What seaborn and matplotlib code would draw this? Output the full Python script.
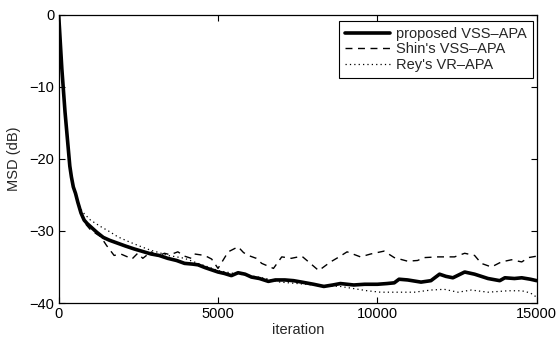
import seaborn as sns
import matplotlib.pyplot as plt
import pandas as pd

# iteration / MSD (dB) values
prop_iter = [0, 30, 60, 100, 150, 200, 250, 300, 350, 400, 460, 530, 600,
             700, 800, 900, 1000, 1200, 1400, 1600, 1850, 2100, 2370, 2600,
             2900, 3150, 3420, 3700, 3950, 4200, 4370, 4600, 5000, 5200,
             5420, 5630, 5850, 6050, 6300, 6580, 6800, 7100, 7370, 7630,
             8000, 8320, 8600, 8840, 9260, 9600, 10000, 10300, 10530, 10680,
             10950, 11370, 11680, 11950, 12150, 12370, 12740, 13050, 13470,
             13840, 14000, 14300, 14530, 14800, 15000]
prop_msd = [0, -2.2, -4.5, -7.5, -10.5, -13.5, -16.0, -18.5, -21.0, -22.5,
            -23.9, -24.8, -26.0, -27.5, -28.5, -29.0, -29.4, -30.2, -30.9,
            -31.3, -31.7, -32.1, -32.5, -32.8, -33.2, -33.4, -33.8, -34.1,
            -34.5, -34.6, -34.7, -35.1, -35.7, -35.9, -36.2, -35.8, -36.0,
            -36.4, -36.6, -37.0, -36.8, -36.8, -36.9, -37.1, -37.4, -37.7,
            -37.5, -37.3, -37.5, -37.4, -37.4, -37.3, -37.2, -36.7, -36.8,
            -37.1, -36.9, -36.0, -36.3, -36.5, -35.7, -36.0, -36.6, -36.9,
            -36.5, -36.6, -36.5, -36.7, -36.9]

shin_iter = [0, 30, 60, 100, 150, 200, 250, 300, 350, 400, 460, 530, 600,
             700, 800, 1010, 1320, 1500, 1740, 1950, 2160, 2300, 2480, 2640,
             2900, 3100, 3320, 3500, 3740, 3950, 4160, 4265, 4580, 4800,
             5000, 5320, 5630, 5800, 5950, 6200, 6370, 6740, 7000, 7300,
             7630, 7790, 8160, 8530, 8800, 9050, 9470, 9790, 10210, 10530,
             10950, 11260, 11470, 11900, 12420, 12740, 13050, 13260, 13580,
             13890, 14210, 14530, 14740, 15000]
shin_msd = [0, -2.2, -4.5, -7.5, -10.5, -13.5, -16.0, -18.5, -21.0, -22.5,
            -23.9, -24.8, -26.0, -27.5, -28.8, -29.9, -30.8, -32.0, -33.4,
            -33.2, -33.6, -33.9, -33.1, -33.8, -32.9, -33.5, -33.1, -33.3,
            -32.9, -33.5, -33.8, -33.2, -33.4, -33.9, -35.2, -32.9, -32.2,
            -33.0, -33.4, -33.8, -34.5, -35.2, -33.6, -33.8, -33.5, -34.1,
            -35.5, -34.3, -33.6, -32.9, -33.6, -33.2, -32.8, -33.7, -34.2,
            -34.1, -33.7, -33.6, -33.6, -33.1, -33.4, -34.5, -35.0, -34.3,
            -34.0, -34.3, -33.7, -33.5]

rey_iter = [0, 30, 60, 100, 150, 200, 250, 300, 350, 400, 460, 530, 600,
            700, 800, 1000, 1320, 1600, 1850, 2100, 2370, 2600, 2900, 3150,
            3420, 3700, 3950, 4370, 4700, 5000, 5500, 6000, 6500, 6950,
            7500, 8000, 8400, 8840, 9260, 9680, 10100, 10630, 11160, 11680,
            12100, 12530, 12950, 13470, 14110, 14530, 14800, 15000]
rey_msd = [0, -2.2, -4.5, -7.5, -10.5, -13.5, -16.0, -18.5, -21.0, -22.5,
           -23.9, -24.8, -26.0, -27.0, -27.6, -28.5, -29.4, -30.1, -30.8,
           -31.3, -31.8, -32.2, -32.7, -33.0, -33.4, -33.6, -33.8, -34.5,
           -35.0, -35.5, -35.9, -36.2, -36.6, -37.1, -37.3, -37.5, -37.6,
           -37.7, -38.0, -38.3, -38.5, -38.5, -38.5, -38.2, -38.1, -38.5,
           -38.2, -38.5, -38.3, -38.3, -38.6, -39.2]

series = [
    ("proposed VSS\u2013APA", prop_iter, prop_msd, "-", 2.6),
    ("Shin's VSS\u2013APA", shin_iter, shin_msd, (0, (5, 4)), 1.0),
    ("Rey's VR\u2013APA", rey_iter, rey_msd, (0, (1, 2.5)), 0.9),
]

sns.set_style("ticks", {"xtick.direction": "in", "ytick.direction": "in"})
plt.rcParams['font.family'] = ['Liberation Sans', 'DejaVu Sans']
plt.rcParams['font.size'] = 10.5
plt.rcParams['xtick.top'] = True
plt.rcParams['ytick.right'] = True

fig = plt.figure(figsize=(5.57, 3.42), dpi=100)
ax = fig.add_axes([0.1053, 0.114, 0.8583, 0.843])

for name, xs, ys, ls, lw in series:
  df = pd.DataFrame({"iteration": xs, "msd": ys})
  sns.lineplot(data=df, x="iteration", y="msd", ax=ax, color="black",
               linestyle=ls, linewidth=lw, label=name)

ax.set_xlim(0, 15000)
ax.set_ylim(-40, 0)
ax.set_xticks([0, 5000, 10000, 15000])
ax.set_yticks([-40, -30, -20, -10, 0])
ax.set_xlabel("iteration", fontsize=10.5, labelpad=1)
ax.set_ylabel("MSD (dB)", fontsize=10.5, labelpad=6)
ax.tick_params(which="major", direction="in", length=4, width=0.8,
               bottom=True, left=True, top=True, right=True,
               labelsize=10.5, pad=3, color="black", labelcolor="black")
for sp in ax.spines.values():
  sp.set_color("black")
  sp.set_linewidth(0.9)

leg = ax.legend(loc="upper right", bbox_to_anchor=(0.992, 0.978),
                fancybox=False, edgecolor="black", framealpha=1,
                handlelength=3.1, handletextpad=0.4, labelspacing=0.1,
                borderpad=0.4, borderaxespad=0, fontsize=10.5)
leg.get_frame().set_linewidth(0.8)

plt.savefig("out.png", dpi=100)
